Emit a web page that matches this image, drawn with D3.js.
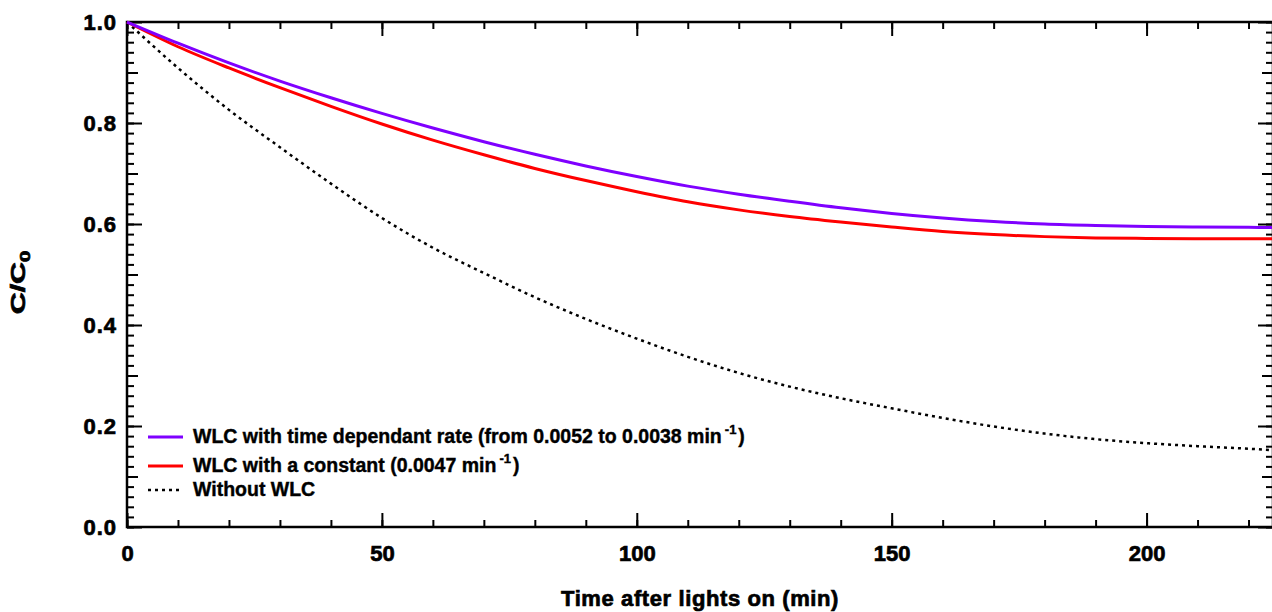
<!DOCTYPE html>
<html lang="en">
<head>
<meta charset="UTF-8">
<title>C/C0 after lights on</title>
<script src="https://d3js.org/d3.v7.min.js"></script>
<style>
  body { margin: 0; background: #fff; }
  svg text { font-family: "Liberation Sans", Arial, sans-serif; font-weight: bold; fill: #000; }
  .heavy { stroke: #000; stroke-width: 0.7px; }
</style>
</head>
<body>
<svg width="1272" height="612"></svg>
<script>
// values (time in min, C/C0)
const times = [0, 10, 20, 30, 40, 50, 60, 70, 80, 90, 100, 110, 120, 130, 140, 150, 160, 170, 180, 190, 200, 210, 220, 225];
const withRate = [1.0, 0.958, 0.919, 0.883, 0.850, 0.819, 0.790, 0.763, 0.738, 0.715, 0.694, 0.675, 0.659, 0.645, 0.632, 0.621, 0.612, 0.605, 0.600, 0.597, 0.595, 0.594, 0.5935, 0.593];
const withConstant = [1.0, 0.951, 0.909, 0.870, 0.833, 0.798, 0.766, 0.737, 0.710, 0.686, 0.664, 0.644, 0.628, 0.615, 0.604, 0.594, 0.585, 0.579, 0.575, 0.5725, 0.5715, 0.571, 0.571, 0.571];
const withoutWlc = [1.0, 0.909, 0.826, 0.752, 0.680, 0.612, 0.553, 0.503, 0.455, 0.412, 0.373, 0.337, 0.305, 0.278, 0.255, 0.235, 0.216, 0.199, 0.185, 0.174, 0.166, 0.160, 0.155, 0.152];

const xTicks = [0, 50, 100, 150, 200];
const xMinor = d3.range(0, 225, 10);
const yTicks = [0, 0.2, 0.4, 0.6, 0.8, 1.0];
const yMid = [0.1, 0.3, 0.5, 0.7, 0.9];
const yMinor = d3.range(0, 1.001, 0.02);

const series = [
  { label: "WLC with time dependant rate (from 0.0052 to 0.0038 min", values: withRate, color: "#7f00ff", dash: null },
  { label: "WLC with a constant (0.0047 min", values: withConstant, color: "#ff0000", dash: null },
  { label: "Without WLC", values: withoutWlc, color: "#000", dash: "3,4" }
];

const svg = d3.select("svg");
const m = { left: 127, right: 1273, top: 22, bottom: 527 };

const x = d3.scaleLinear().domain([0, 224.8]).range([m.left, m.right]);
const y = d3.scaleLinear().domain([0, 1]).range([m.bottom, m.top]);

// tick helper: inward ticks, no domain path
function ticks(axisFn, scale, values, size, pos, labels) {
  const ax = axisFn(scale).tickValues(values).tickSize(-size).tickPadding(labels ? 10 : 0);
  if (!labels) ax.tickFormat("");
  else ax.tickFormat(d3.format(labels));
  const g = svg.append("g").attr("transform", pos).call(ax);
  g.select(".domain").remove();
  g.selectAll("line").attr("stroke", "#000").attr("stroke-width", 2);
  g.selectAll("text").attr("class", "heavy");
  return g;
}

// x axes (bottom with labels, top without)
ticks(d3.axisBottom, x, xMinor, 7, `translate(0,${m.bottom})`);
ticks(d3.axisBottom, x, xTicks, 14, `translate(0,${m.bottom})`, "d")
  .selectAll("text").attr("font-size", 22).attr("dy", "0.95em").attr("y", 13);
ticks(d3.axisTop, x, xMinor, 7, `translate(0,${m.top})`);
ticks(d3.axisTop, x, xTicks, 14, `translate(0,${m.top})`);

// y axes (left with labels, right without)
ticks(d3.axisLeft, y, yMinor, 7, `translate(${m.left},0)`);
ticks(d3.axisLeft, y, yMid, 11, `translate(${m.left},0)`);
ticks(d3.axisLeft, y, yTicks, 15, `translate(${m.left},0)`, ".1f")
  .selectAll("text").attr("font-size", 22).attr("letter-spacing", 1);
ticks(d3.axisRight, y, yMinor, 7, `translate(${m.right},0)`);
ticks(d3.axisRight, y, yMid, 11, `translate(${m.right},0)`);
ticks(d3.axisRight, y, yTicks, 15, `translate(${m.right},0)`);

// frame
svg.append("rect")
  .attr("x", m.left).attr("y", m.top)
  .attr("width", m.right - m.left).attr("height", m.bottom - m.top)
  .attr("fill", "none").attr("stroke", "#000").attr("stroke-width", 2.5);

// curves
const line = d3.line().curve(d3.curveMonotoneX);
[series[2], series[1], series[0]].forEach(s => {
  svg.append("path")
    .attr("d", line(times.map((t, i) => [x(t), y(s.values[i])])))
    .attr("fill", "none")
    .attr("stroke", s.color)
    .attr("stroke-width", s.dash ? 2.5 : 3)
    .attr("stroke-dasharray", s.dash);
});

// legend
const legendRows = [437, 466, 490];
series.forEach((s, i) => {
  const ly = legendRows[i];
  svg.append("line")
    .attr("x1", 148).attr("x2", 183).attr("y1", ly).attr("y2", ly)
    .attr("stroke", s.color)
    .attr("stroke-width", s.dash ? 2.5 : 3)
    .attr("stroke-dasharray", s.dash);
  const t = svg.append("text").attr("x", 193).attr("y", ly + 6)
    .attr("font-size", 19.5).attr("class", "heavy").style("stroke-width", "0.4px");
  t.append("tspan").text(s.label);
  if (i < 2) {
    t.append("tspan").attr("dx", 3).attr("dy", -9).attr("font-size", 13).text("-1");
    t.append("tspan").attr("dx", 2).attr("dy", 9).text(")");
  }
});

// axis titles
svg.append("text")
  .attr("x", (m.left + m.right) / 2).attr("y", 606)
  .attr("text-anchor", "middle").attr("font-size", 22)
  .attr("letter-spacing", 0.6).attr("class", "heavy")
  .text("Time after lights on (min)");

const yt = svg.append("text")
  .attr("transform", `translate(25,${(m.top + m.bottom) / 2 + 8}) rotate(-90) scale(1.45,1)`)
  .attr("text-anchor", "middle").attr("font-size", 21).attr("class", "heavy");
yt.append("tspan").text("C/C");
yt.append("tspan").attr("dy", 5).attr("font-size", 14).text("0");
</script>
</body>
</html>
